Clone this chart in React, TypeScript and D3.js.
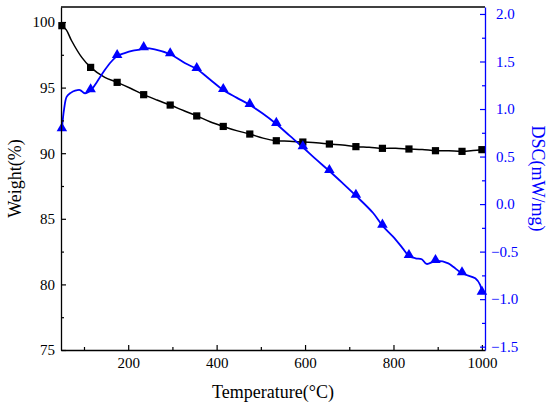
import React, { useRef, useEffect } from 'react';
import * as d3 from 'd3';

// TG curve (weight %) vs temperature
const weightTemp = [50, 60, 72, 95, 115, 147, 175, 205, 235, 265, 295, 325, 355, 385, 415, 445, 475, 505, 535, 565, 595, 625, 655, 685, 715, 745, 775, 805, 835, 865, 895, 925, 955, 980, 1000];
const weightVal = [99.72, 99.4, 98.57, 97.3, 96.54, 95.78, 95.4, 94.95, 94.46, 94.05, 93.67, 93.25, 92.84, 92.4, 92.04, 91.72, 91.46, 91.15, 90.95, 90.92, 90.85, 90.8, 90.7, 90.62, 90.5, 90.45, 90.37, 90.38, 90.32, 90.28, 90.19, 90.18, 90.14, 90.2, 90.27];

// DSC curve (mW/mg) vs temperature
const dscTemp = [50, 55, 61, 70, 80, 91, 102, 116, 130, 147, 162, 175, 192, 211, 225, 235, 260, 295, 329, 355, 385, 415, 445, 475, 505, 535, 565, 595, 625, 655, 685, 715, 754, 775, 799, 820, 835, 850, 864, 875, 895, 924, 935, 955, 985, 996, 1000];
const dscVal = [0.787, 1.0, 1.13, 1.17, 1.193, 1.2, 1.166, 1.2, 1.29, 1.41, 1.5, 1.558, 1.589, 1.614, 1.625, 1.64, 1.628, 1.576, 1.481, 1.421, 1.31, 1.2, 1.12, 1.043, 0.95, 0.843, 0.72, 0.598, 0.47, 0.348, 0.22, 0.088, -0.094, -0.227, -0.343, -0.46, -0.546, -0.57, -0.581, -0.63, -0.599, -0.623, -0.659, -0.728, -0.781, -0.85, -0.932];

// temperatures where symbols are drawn
const markerTemp = [50, 115, 175, 235, 295, 355, 415, 475, 535, 595, 655, 715, 775, 835, 895, 955, 1000];

const xTicks = [200, 400, 600, 800, 1000];
const weightTicks = [75, 80, 85, 90, 95, 100];
const dscTicks = [-1.5, -1.0, -0.5, 0.0, 0.5, 1.0, 1.5, 2.0];

const width = 550;
const height = 411;
const left = 61;
const right = 485;
const top = 7;
const bottom = 350;
const font = "'Liberation Serif', 'Times New Roman', Times, serif";
const blue = '#0000ff';

const App: React.FC = () => {
    const svgRef = useRef<SVGSVGElement | null>(null);

    useEffect(() => {
        const svg = d3.select(svgRef.current);
        svg.selectAll('*').remove();

        const x = d3.scaleLinear().domain([48, 1007]).range([left, right]);
        const yW = d3.scaleLinear().domain([75, 75 + (bottom - top) / 13.12]).range([bottom, top]);
        const yD = d3.scaleLinear().domain([-1.535, -1.535 + (bottom - top) / 95.06]).range([bottom, top]);

        svg.append('rect').attr('width', width).attr('height', height).attr('fill', '#fff');

        // curves
        const weightPts: [number, number][] = weightTemp.map((t, i) => [t, weightVal[i]]);
        const dscPts: [number, number][] = dscTemp.map((t, i) => [t, dscVal[i]]);

        const lineW = d3.line<[number, number]>()
            .x(d => x(d[0]))
            .y(d => yW(d[1]))
            .curve(d3.curveCatmullRom);
        const lineD = d3.line<[number, number]>()
            .x(d => x(d[0]))
            .y(d => yD(d[1]))
            .curve(d3.curveCatmullRom);

        svg.append('path')
            .attr('d', lineW(weightPts))
            .attr('fill', 'none')
            .attr('stroke', '#000')
            .attr('stroke-width', 1.5);

        svg.append('path')
            .attr('d', lineD(dscPts))
            .attr('fill', 'none')
            .attr('stroke', blue)
            .attr('stroke-width', 1.8);

        const interp = (ts: number[], vs: number[], t: number) => {
            const i = ts.indexOf(t);
            if (i >= 0) return vs[i];
            const j = d3.bisectLeft(ts, t);
            const k = (t - ts[j - 1]) / (ts[j] - ts[j - 1]);
            return vs[j - 1] + k * (vs[j] - vs[j - 1]);
        };

        const sq = d3.symbol().type(d3.symbolSquare).size(52);
        const tri = d3.symbol().type(d3.symbolTriangle).size(48);

        svg.append('g')
            .selectAll('path')
            .data(markerTemp)
            .enter()
            .append('path')
            .attr('d', sq)
            .attr('transform', t => `translate(${x(t)},${yW(interp(weightTemp, weightVal, t))})`)
            .attr('fill', '#000');

        svg.append('g')
            .selectAll('path')
            .data(markerTemp)
            .enter()
            .append('path')
            .attr('d', tri)
            .attr('transform', t => `translate(${x(t)},${yD(interp(dscTemp, dscVal, t)) - 1})`)
            .attr('fill', blue);

        // frame top
        svg.append('line')
            .attr('x1', left).attr('x2', right)
            .attr('y1', top).attr('y2', top)
            .attr('stroke', '#000').attr('stroke-width', 1.3);

        const styleAxis = (g: d3.Selection<SVGGElement, unknown, null, undefined>, color: string) => {
            g.attr('font-family', font).attr('font-size', 15);
            g.select('.domain').attr('stroke', color).attr('stroke-width', 1.3);
            g.selectAll('.tick line').attr('stroke', color).attr('stroke-width', 1.2);
            g.selectAll('.tick text')
                .attr('fill', color)
                .attr('font-family', font)
                .style('font-family', font)
                .style('font-size', '15px');
        };

        // bottom axis
        const gx = svg.append('g')
            .attr('transform', `translate(0,${bottom})`)
            .call(d3.axisBottom(x).tickValues(xTicks).tickSize(-5).tickSizeOuter(0).tickPadding(7).tickFormat(d3.format('d')));
        styleAxis(gx, '#000');
        const gxm = svg.append('g')
            .attr('transform', `translate(0,${bottom})`)
            .call(d3.axisBottom(x).tickValues([100, 300, 500, 700, 900]).tickSize(-3).tickSizeOuter(0).tickFormat(() => ''));
        gxm.select('.domain').remove();
        gxm.selectAll('.tick line').attr('stroke', '#000').attr('stroke-width', 1.2);

        // left axis
        const gl = svg.append('g')
            .attr('transform', `translate(${left},0)`)
            .call(d3.axisLeft(yW).tickValues(weightTicks).tickSize(-5).tickSizeOuter(0).tickPadding(6).tickFormat(d3.format('d')));
        styleAxis(gl, '#000');
        const glm = svg.append('g')
            .attr('transform', `translate(${left},0)`)
            .call(d3.axisLeft(yW).tickValues([77.5, 82.5, 87.5, 92.5, 97.5]).tickSize(-3).tickSizeOuter(0).tickFormat(() => ''));
        glm.select('.domain').remove();
        glm.selectAll('.tick line').attr('stroke', '#000').attr('stroke-width', 1.2);

        // right axis
        const gr = svg.append('g')
            .attr('transform', `translate(${right},0)`)
            .call(d3.axisRight(yD).tickValues(dscTicks).tickSize(-5).tickSizeOuter(0).tickPadding(11)
                .tickFormat(d => d3.format('.1f')(d as number).replace('-', '\u2212')));
        styleAxis(gr, blue);
        gr.selectAll<SVGTextElement, number>('.tick text').attr('x', d => (d < 0 ? 6 : 11));
        const grm = svg.append('g')
            .attr('transform', `translate(${right},0)`)
            .call(d3.axisRight(yD).tickValues([-1.25, -0.75, -0.25, 0.25, 0.75, 1.25, 1.75]).tickSize(-3).tickSizeOuter(0).tickFormat(() => ''));
        grm.select('.domain').remove();
        grm.selectAll('.tick line').attr('stroke', blue).attr('stroke-width', 1.2);

        // titles
        svg.append('text')
            .attr('transform', `translate(21,${(top + bottom) / 2}) rotate(-90)`)
            .attr('text-anchor', 'middle')
            .attr('font-family', font)
            .attr('font-size', 18)
            .text('Weight(%)');

        svg.append('text')
            .attr('transform', `translate(532,${(top + bottom) / 2}) rotate(90)`)
            .attr('text-anchor', 'middle')
            .attr('fill', blue)
            .attr('font-family', font)
            .attr('font-size', 18)
            .text('DSC(mW/mg)');

        svg.append('text')
            .attr('x', 273)
            .attr('y', 398)
            .attr('text-anchor', 'middle')
            .attr('font-family', font)
            .attr('font-size', 18)
            .text('Temperature(\u00b0C)');
    }, []);

    return (
        <div style={{ position: 'absolute', left: 0, top: 0 }}>
            <svg ref={svgRef} width={width} height={height} />
        </div>
    );
};

export default App;
